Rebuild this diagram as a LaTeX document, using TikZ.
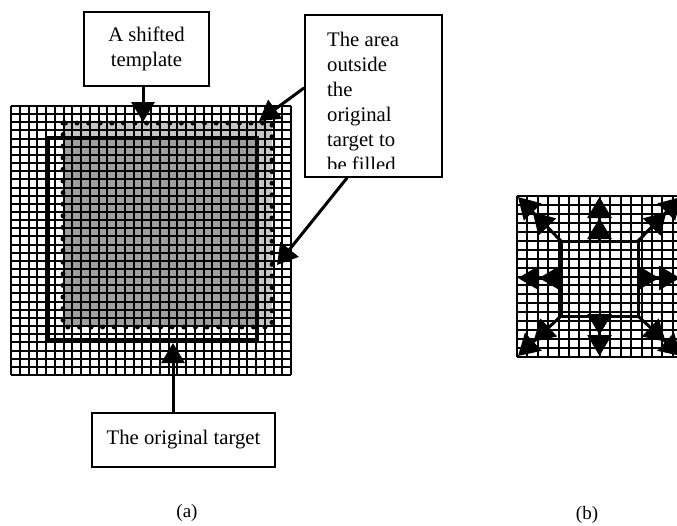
\documentclass[tikz,border=0pt]{standalone}
\usepackage{fontspec}
\setmainfont{Liberation Serif}
\usetikzlibrary{arrows.meta,calc}

\begin{document}
\begin{tikzpicture}[x=1pt,y=-1pt,
  gridline/.style={line width=2pt,black},
  callout/.style={draw,line width=1.5pt,fill=white,inner sep=0pt,
    font=\fontsize{20.7}{24.5}\selectfont},
  callarrow/.style={line width=3pt,-{Triangle[width=23pt,length=20pt]}},
  dblarrow/.style={line width=3pt,
    -{Triangle[width=24pt,length=21pt]Triangle[width=24pt,length=21pt]}},
  caption/.style={font=\fontsize{19}{22}\selectfont,inner sep=0pt}]
\useasboundingbox (0,0) rectangle (677,525);

% ---------- (a) ----------
% shifted template: overlap with the target (dark) and the part outside it (light)
\fill[gray!75] (63,123) rectangle (272,327);
\fill[gray!45] (63,123) rectangle (272,138);
\fill[gray!45] (257,138) rectangle (272,327);
% pixel grid
\foreach \i in {0,...,32}
  \draw[gridline] ({11+\i*280/32},106) -- ({11+\i*280/32},375);
\foreach \j in {0,...,33}
  \draw[gridline] (11,{106+\j*269/33}) -- (291,{106+\j*269/33});
% outline of the shifted template
\draw[line width=5pt,line cap=round,dash pattern=on 0pt off 11.6pt]
  (63,123) rectangle (272,327);
% the original target
\draw[line width=3.2pt] (48,138) rectangle (257,340);

% callouts
\node[callout,minimum width=125pt,minimum height=74pt,align=center]
  (shift) at (146.5,49) {A shifted\\template};
\node[callout,minimum width=137pt,minimum height=162pt] (area) at (373.5,96) {};
\begin{scope}
  \clip (306,16) rectangle (441,168);
  \node[anchor=north west,align=left,inner sep=0pt,
    font=\fontsize{20.7}{25}\selectfont] (areatext) at (327,31.5)
    {The area\\outside\\the\\original\\target to\\be filled};
\end{scope}
\node[callout,minimum width=183pt,minimum height=54pt] (orig) at (183.5,440)
  {The original target};

\coordinate (tipshift) at (143,122);
\coordinate (tiptop) at (259,121);
\coordinate (tipright) at (277,265);
\coordinate (tiporig) at (173,343);
\draw[callarrow] (shift.south -| tipshift) -- (tipshift);
\draw[callarrow] ($(area.north west)!0.45!(area.south west)$) -- (tiptop);
\draw[callarrow] ($(area.south west)!0.31!(area.south east)$) -- (tipright);
\draw[callarrow] (orig.north -| tiporig) -- (tiporig);

\node[caption] (capa) at (187,513) {(a)};

% ---------- (b) ----------
\begin{scope}
  \clip (0,0) rectangle (677,525);
  \foreach \i in {0,...,16}
    \draw[gridline] ({517+\i*166/16},196) -- ({517+\i*166/16},357);
  \foreach \j in {0,...,18}
    \draw[gridline] (517,{196+\j*161/18}) -- (683,{196+\j*161/18});
  \draw[line width=3pt] (561,241) rectangle (638,316);
  \coordinate (ctl) at (561,241);
  \coordinate (ctr) at (638,241);
  \coordinate (cbl) at (561,316);
  \coordinate (cbr) at (638,316);
  \coordinate (ct) at (599.5,241);
  \coordinate (cb) at (599.5,316);
  \coordinate (cl) at (561,278);
  \coordinate (cr) at (638,278);
  \draw[dblarrow] (ctl) -- (518,197);
  \draw[dblarrow] (ct) -- (599.5,197);
  \draw[dblarrow] (ctr) -- (681,197);
  \draw[dblarrow] (cl) -- (518,278);
  \draw[dblarrow] (cr) -- (680,278);
  \draw[dblarrow] (cbl) -- (518,356);
  \draw[dblarrow] (cb) -- (599.5,356);
  \draw[dblarrow] (cbr) -- (681,356);
\end{scope}

\node[caption] (capb) at (587,515) {(b)};
\end{tikzpicture}
\end{document}
